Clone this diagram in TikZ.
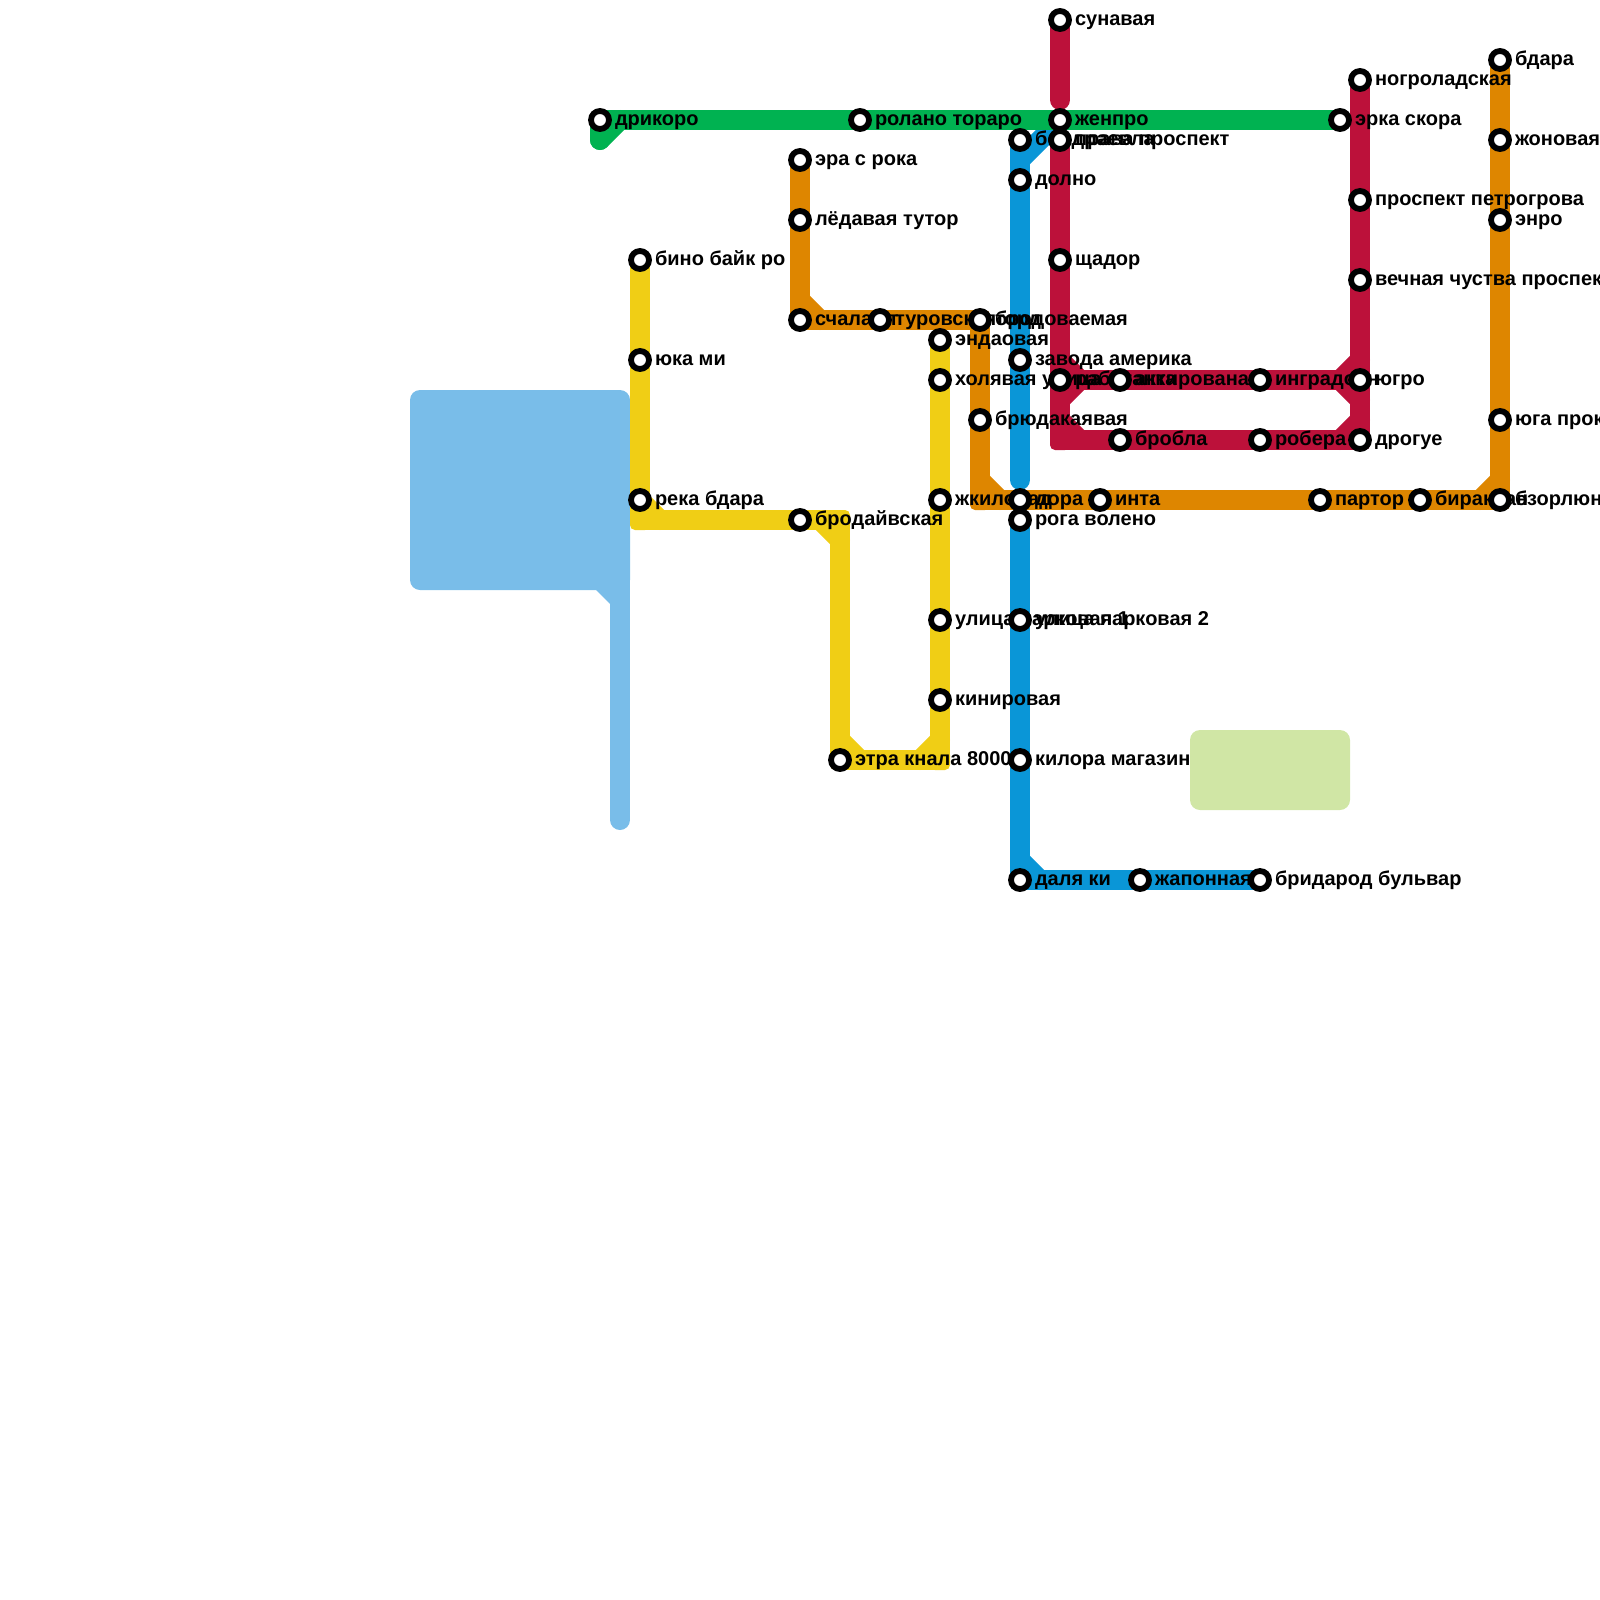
\documentclass[tikz,border=0pt]{standalone}
\usepackage{fontspec}
\setmainfont{Liberation Sans}
\pgfdeclarelayer{lines}
\pgfsetlayers{lines,main}
\definecolor{cgreen}{RGB}{0,178,81}
\definecolor{cred}{RGB}{188,17,58}
\definecolor{cblue}{RGB}{10,150,215}
\definecolor{cyellow}{RGB}{240,206,21}
\definecolor{corange}{RGB}{222,134,0}
\definecolor{criver}{RGB}{121,189,233}
\definecolor{cpark}{RGB}{208,230,165}
\tikzset{
 stn/.style={circle,draw=black,fill=white,line width=2.9pt,minimum size=9pt,inner sep=0pt},
 lbl/.style={anchor=base west,inner sep=0pt,outer sep=0pt,font=\bfseries\fontsize{10}{12}\selectfont,text=black},
 metro/.style={line width=10pt,line cap=round,line join=bevel},
 lgreen/.style={metro,draw=cgreen},
 lred/.style={metro,draw=cred},
 lblue/.style={metro,draw=cblue},
 lyellow/.style={metro,draw=cyellow},
 lorange/.style={metro,draw=corange},
 lriver/.style={metro,draw=criver},
 bendpatch/.style={rounded corners=2.5pt}
}
\newcommand{\stn}[4]{\node[stn] (#1) at (#2,#3) {};\node[lbl] (#1t) at (#2+15,#3+5.5) {#4};}
\newcommand{\bendat}[3]{\fill[#1,bendpatch] (#2-10,#3-10) rectangle (#2+10,#3+10);}
\begin{document}
\begin{tikzpicture}[x=.5pt,y=-.5pt]
\useasboundingbox (0,0) rectangle (1600,1600);
\clip (0,0) rectangle (1600,1600);
% stations
\stn{gA}{600}{120}{дрикоро}
\stn{gB}{860}{120}{ролано тораро}
\stn{gC}{1060}{120}{женпро}
\stn{gD}{1340}{120}{эрка скора}
\stn{yA}{640}{260}{бино байк ро}
\stn{yB}{640}{360}{юка ми}
\stn{yC}{640}{500}{река бдара}
\stn{yD}{800}{520}{бродайвская}
\stn{yE}{840}{760}{этра кнала 8000}
\stn{yF}{940}{700}{кинировая}
\stn{yG}{940}{620}{улица парковая 1}
\stn{yH}{940}{500}{жкиловад}
\stn{yI}{940}{380}{холявая улица}
\stn{yJ}{940}{340}{эндаовая}
\stn{oA}{800}{160}{эра с рока}
\stn{oB}{800}{220}{лёдавая тутор}
\stn{oC}{800}{320}{счала ат}
\stn{oD}{880}{320}{туровская}
\stn{oE}{980}{320}{бродоваемая}
\node[lbl] (oEb) at (995,325.5) {торд};
\stn{oF}{980}{420}{брюдакаявая}
\stn{oG}{1020}{500}{дора}
\stn{oH}{1100}{500}{инта}
\stn{oI}{1320}{500}{партор}
\stn{oJ}{1420}{500}{биракван}
\stn{oK}{1500}{500}{бзорлюн}
\stn{oL}{1500}{420}{юга прокат}
\stn{oM}{1500}{220}{энро}
\stn{oN}{1500}{140}{жоновая}
\stn{oO}{1500}{60}{бдара}
\stn{bA}{1020}{140}{бондраевла}
\stn{bB}{1020}{180}{долно}
\stn{bC}{1020}{360}{завода америка}
\stn{bD}{1020}{520}{рога волено}
\stn{bE}{1020}{620}{улица парковая 2}
\stn{bF}{1020}{760}{килора магазин}
\stn{bG}{1020}{880}{даля ки}
\stn{bH}{1140}{880}{жапонная}
\stn{bI}{1260}{880}{бридарод бульвар}
\stn{rA}{1060}{20}{сунавая}
\stn{rB}{1060}{140}{права проспект}
\stn{rC}{1060}{260}{щадор}
\stn{rD}{1060}{380}{работанка}
\stn{rE}{1120}{380}{актированая}
\stn{rF}{1260}{380}{инградоан}
\stn{rG}{1360}{380}{югро}
\stn{rH}{1120}{440}{бробла}
\stn{rI}{1260}{440}{робера}
\stn{rJ}{1360}{440}{дрогуе}
\stn{rK}{1360}{280}{вечная чуства проспект}
\stn{rL}{1360}{200}{проспект петрогрова}
\stn{rM}{1360}{80}{ногроладская}
% free ends and bends
\coordinate (g1) at (600,140);\coordinate (g2) at (620,120);
\coordinate (b1) at (1020,480);\coordinate (b2) at (1020,160);\coordinate (b3) at (1060,120);
\coordinate (b4) at (1020,860);\coordinate (b5) at (1040,880);
\coordinate (y1) at (640,520);\coordinate (y2) at (660,520);\coordinate (y3) at (840,520);
\coordinate (y4) at (820,520);\coordinate (y5) at (840,540);\coordinate (y6) at (840,740);
\coordinate (y7) at (860,760);\coordinate (y8) at (940,760);\coordinate (y9) at (920,760);\coordinate (y10) at (940,740);
\coordinate (o1) at (800,300);\coordinate (o2) at (820,320);\coordinate (o3) at (980,500);
\coordinate (o4) at (980,480);\coordinate (o5) at (1000,500);\coordinate (o6) at (1480,500);\coordinate (o7) at (1500,480);
\coordinate (r1) at (1060,100);\coordinate (r2) at (1060,440);
\coordinate (r3) at (1060,360);\coordinate (r4) at (1080,380);\coordinate (r5) at (1060,400);
\coordinate (r6) at (1060,420);\coordinate (r7) at (1080,440);
\coordinate (r8) at (1340,380);\coordinate (r9) at (1360,360);\coordinate (r10) at (1360,400);
\coordinate (r11) at (1340,440);\coordinate (r12) at (1360,420);
\begin{pgfonlayer}{lines}
% water and park
\fill[criver,rounded corners=5pt] (410,390) rectangle (630,590);
\fill[criver] (596,590) -- (615,590) -- (615,606) -- (610,604) -- cycle;
\coordinate (w1) at (620,580);\coordinate (w2) at (620,820);
\draw[lriver] (w1) -- (w2);
\fill[cpark,rounded corners=5pt] (1190,730) rectangle (1350,810);
% blue
\draw[lblue] (bA.center) -- (bB.center) -- (bC.center) -- (b1);
\draw[lblue] (b2) -- (b3);
\draw[lblue] (bD.center) -- (bE.center) -- (bF.center) -- (bG.center) -- (bH.center) -- (bI.center);
\draw[lblue] (b4) -- (b5);
\bendat{cblue}{1020}{880}
% yellow
\draw[lyellow] (yA.center) -- (yB.center) -- (yC.center) -- (y1) -- (yD.center) -- (y3) -- (yE.center) -- (y8) -- (yF.center) -- (yG.center) -- (yH.center) -- (yI.center) -- (yJ.center);
\draw[lyellow] (yC.center) -- (y2);
\draw[lyellow] (y4) -- (y5);
\draw[lyellow] (y6) -- (y7);
\draw[lyellow] (y9) -- (y10);
\bendat{cyellow}{640}{520}
\bendat{cyellow}{840}{520}
\bendat{cyellow}{840}{760}
\bendat{cyellow}{940}{760}
% orange
\draw[lorange] (oA.center) -- (oB.center) -- (oC.center) -- (oD.center) -- (oE.center) -- (oF.center) -- (o3) -- (oG.center) -- (oH.center) -- (oI.center) -- (oJ.center) -- (oK.center) -- (oL.center) -- (oM.center) -- (oN.center) -- (oO.center);
\draw[lorange] (o1) -- (o2);
\draw[lorange] (o4) -- (o5);
\draw[lorange] (o6) -- (o7);
\bendat{corange}{800}{320}
\bendat{corange}{980}{320}
\bendat{corange}{980}{500}
\bendat{corange}{1500}{500}
% green
\draw[lgreen] (gA.center) -- (g1);
\draw[lgreen] (g1) -- (g2);
\draw[lgreen] (gA.center) -- (gB.center) -- (gC.center) -- (gD.center);
% red
\draw[lred] (rA.center) -- (r1);
\draw[lred] (rB.center) -- (rC.center) -- (rD.center) -- (r2) -- (rH.center) -- (rI.center) -- (rJ.center) -- (rG.center) -- (rK.center) -- (rL.center) -- (rM.center);
\draw[lred] (rD.center) -- (rE.center) -- (rF.center) -- (rG.center);
\draw[lred] (r3) -- (r4);
\draw[lred] (r5) -- (r4);
\draw[lred] (r6) -- (r7);
\draw[lred] (r8) -- (r9);
\draw[lred] (r8) -- (r10);
\draw[lred] (r11) -- (r12);
\bendat{cred}{1060}{440}
\bendat{cred}{1360}{440}
\end{pgfonlayer}
\end{tikzpicture}
\end{document}
